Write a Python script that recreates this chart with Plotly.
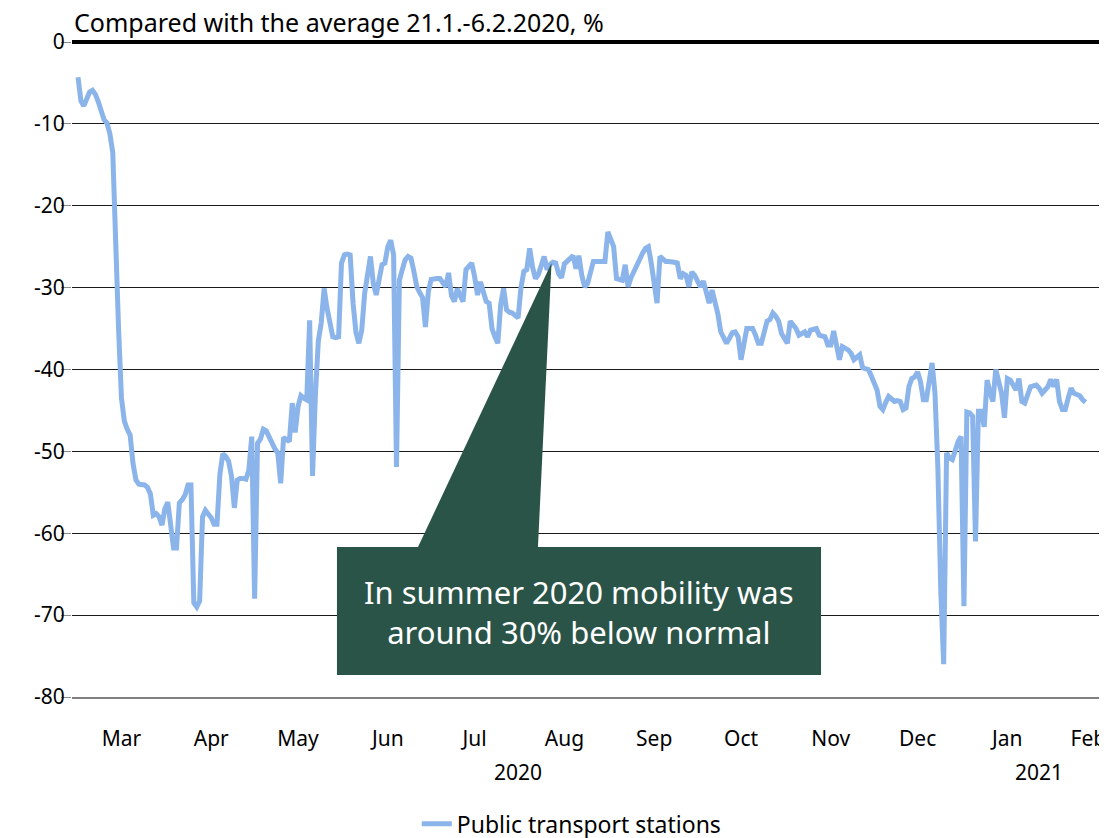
import pandas as pd
import plotly.graph_objects as go

# ---- data: daily index vs. average 21.1.-6.2.2020 (%), starting 1 Mar 2020 ----
start_date = "2020-03-01"
values = [
    -4.3, -7.2, -7.8, -6.8, -6.1, -5.9, -6.4, -7.3, -8.7, -9.5,
    -9.9, -11.2, -13.5, -27.0, -35.0, -43.5, -46.3, -47.3, -48.0, -51.5,
    -53.5, -54.0, -54.1, -54.1, -54.4, -55.2, -57.8, -57.6, -58.0, -59.0,
    -57.0, -56.2, -59.0, -61.8, -61.8, -56.3, -55.9, -55.3, -54.1, -54.1,
    -68.5, -69.0, -68.3, -58.0, -57.2, -57.6, -58.1, -58.9, -58.9, -52.8,
    -50.3, -50.6, -51.2, -53.0, -56.9, -53.5, -53.3, -53.3, -53.4, -52.3,
    -48.2, -68.0, -49.0, -48.5, -47.3, -47.5, -48.3, -49.0, -49.7, -50.2,
    -53.9, -48.3, -48.5, -48.8, -44.1, -47.7, -44.5, -43.2, -43.5, -43.7,
    -34.0, -53.0, -43.0, -36.5, -34.3, -30.1, -32.5, -34.2, -36.0, -36.1,
    -36.0, -27.0, -26.0, -25.9, -26.0, -31.9, -35.5, -36.8, -35.2, -30.7,
    -28.3, -26.2, -29.5, -30.9, -29.0, -27.2, -27.0, -25.0, -24.2, -26.0,
    -51.9, -29.1, -27.8, -26.6, -26.2, -26.4, -28.0, -29.9, -30.6, -31.2,
    -34.8, -30.5, -29.0, -28.9, -28.9, -28.9, -29.3, -29.9, -28.2, -31.0,
    -31.7, -30.1, -31.0, -31.7, -27.8, -27.3, -27.0, -28.7, -30.9, -29.3,
    -30.8, -31.7, -31.9, -35.0, -36.0, -36.8, -32.0, -30.1, -32.7, -33.0,
    -33.1, -33.4, -33.7, -30.0, -28.0, -27.8, -25.2, -27.5, -28.9, -28.4,
    -27.2, -26.2, -27.8, -27.2, -26.9, -27.0, -28.3, -28.8, -27.1, -26.8,
    -26.4, -26.1, -27.7, -26.1, -28.5, -29.9, -29.5, -28.0, -26.8, -26.8,
    -26.8, -26.8, -26.8, -23.2, -24.2, -25.0, -28.9, -29.0, -29.1, -27.2,
    -29.9, -28.8, -28.0, -27.3, -26.6, -25.8, -25.2, -25.0, -27.0, -29.5,
    -31.9, -26.2, -26.6, -26.8, -26.8, -26.8, -26.9, -27.0, -28.9, -28.3,
    -28.5, -29.9, -28.1, -28.5, -29.1, -29.9, -29.2, -30.5, -31.9, -30.3,
    -31.8, -33.2, -35.4, -36.2, -36.8, -36.2, -35.5, -35.4, -36.0, -38.8,
    -36.5, -35.0, -35.0, -35.0, -35.8, -36.8, -36.8, -35.5, -34.1, -33.9,
    -33.1, -33.5, -34.1, -35.6, -36.2, -36.8, -34.1, -34.6, -35.0, -35.8,
    -35.6, -35.4, -36.0, -35.2, -35.1, -35.0, -35.8, -35.9, -36.0, -37.0,
    -37.0, -35.3, -37.0, -38.8, -37.2, -37.4, -37.6, -38.0, -38.8, -38.5,
    -38.2, -39.8, -39.9, -40.0, -40.8, -41.5, -42.5, -44.5, -44.9, -44.0,
    -43.3, -43.6, -43.9, -43.8, -43.9, -44.9, -44.7, -42.1, -41.1, -40.9,
    -40.3, -41.5, -43.7, -43.7, -41.5, -39.2, -42.9, -52.0, -67.0, -76.0,
    -50.2, -50.8, -51.0, -49.6, -48.8, -48.2, -68.9, -45.2, -45.3, -45.7,
    -61.0, -45.1, -45.1, -47.0, -41.3, -42.8, -43.9, -40.0, -41.5, -42.9,
    -45.9, -41.1, -41.3, -41.8, -42.5, -41.1, -43.9, -44.1, -43.0, -42.1,
    -42.0, -41.9, -42.3, -42.9, -42.5, -42.1, -41.2, -42.1, -41.2, -43.9,
    -44.9, -44.9, -43.5, -42.3, -42.9, -43.0, -43.2, -43.7, -44.0,
]
series_name = "Public transport stations"
month_ticks = ["2020-03-16", "2020-04-16", "2020-05-16", "2020-06-16", "2020-07-16",
               "2020-08-16", "2020-09-16", "2020-10-16", "2020-11-16", "2020-12-16",
               "2021-01-16", "2021-02-13"]
month_labels = ["Mar", "Apr", "May", "Jun", "Jul", "Aug", "Sep", "Oct", "Nov", "Dec", "Jan", "Feb"]
year_labels = ["2020", "2021"]
year_positions = ["2020-07-31", "2021-01-27"]
y_ticks = [0, -10, -20, -30, -40, -50, -60, -70, -80]
y_tick_labels = ["0", "-10", "-20", "-30", "-40", "-50", "-60", "-70", "-80"]
title_text = "Compared with the average 21.1.-6.2.2020, %"
callout_text = "In summer 2020 mobility was<br>around 30% below normal"

dates = pd.date_range(start_date, periods=len(values), freq="D")

FONT = "Noto Sans"
fig = go.Figure()
fig.add_trace(go.Scatter(
    x=dates, y=values, mode="lines", name=series_name,
    line=dict(color="#8AB4EA", width=5),
))

# callout box + pointer
green = "#2A5448"
fig.add_shape(type="path", xref="paper", yref="paper",
              path="M 0.3343 0.2290 L 0.4633 0.6626 L 0.4502 0.2290 Z",
              fillcolor=green, line=dict(width=0), layer="above")
fig.add_shape(type="rect", xref="paper", yref="paper",
              x0=0.2560, x1=0.7237, y0=0.0336, y1=0.2290,
              fillcolor=green, line=dict(width=0), layer="above")
fig.add_annotation(xref="paper", yref="paper", x=0.4899, y=0.1298,
                   text=callout_text, showarrow=False,
                   font=dict(family=FONT, size=31, color="white"),
                   align="center", xanchor="center", yanchor="middle")

# thick zero line (top edge of the plot, y = 0)
fig.add_shape(type="line", xref="paper", yref="paper", x0=0, x1=1, y0=1, y1=1,
              line=dict(color="black", width=4), layer="above")

# title
fig.add_annotation(xref="paper", yref="paper", x=0.0, y=1.0305,
                   text=title_text, showarrow=False,
                   font=dict(family=FONT, size=25, color="black"),
                   xanchor="left", yanchor="middle")

for lab, pos in zip(year_labels, year_positions):
    fig.add_annotation(xref="x", yref="paper", x=pos, y=-0.115,
                       text=lab, showarrow=False,
                       font=dict(family=FONT, size=21, color="black"),
                       xanchor="center", yanchor="middle")

fig.update_layout(
    width=1099, height=830,
    margin=dict(l=64, r=0, t=34, b=141),
    plot_bgcolor="white", paper_bgcolor="white",
    font=dict(family=FONT, size=21, color="black"),
    showlegend=True,
    legend=dict(orientation="h", xref="container", yref="container",
                x=0.513, y=0.017, xanchor="center", yanchor="middle",
                itemwidth=30,
                font=dict(family=FONT, size=23, color="black")),
    xaxis=dict(
        type="date",
        range=["2020-02-27 22:00", "2021-02-19 10:00"],
        tickmode="array", tickvals=month_ticks, ticktext=month_labels,
        showgrid=False, zeroline=False, ticks="",
        showline=True, linecolor="#808080", linewidth=1.5,
        ticklabelstandoff=22,
    ),
    yaxis=dict(
        range=[-80, 0], tickmode="array", tickvals=y_ticks, ticktext=y_tick_labels,
        showgrid=True, gridcolor="#1a1a1a", gridwidth=1,
        zeroline=False, ticks="outside", ticklen=10, tickcolor="#8c8c8c",
        showline=False, ticklabelstandoff=-8,
    ),
)

fig.write_html("out.html")
